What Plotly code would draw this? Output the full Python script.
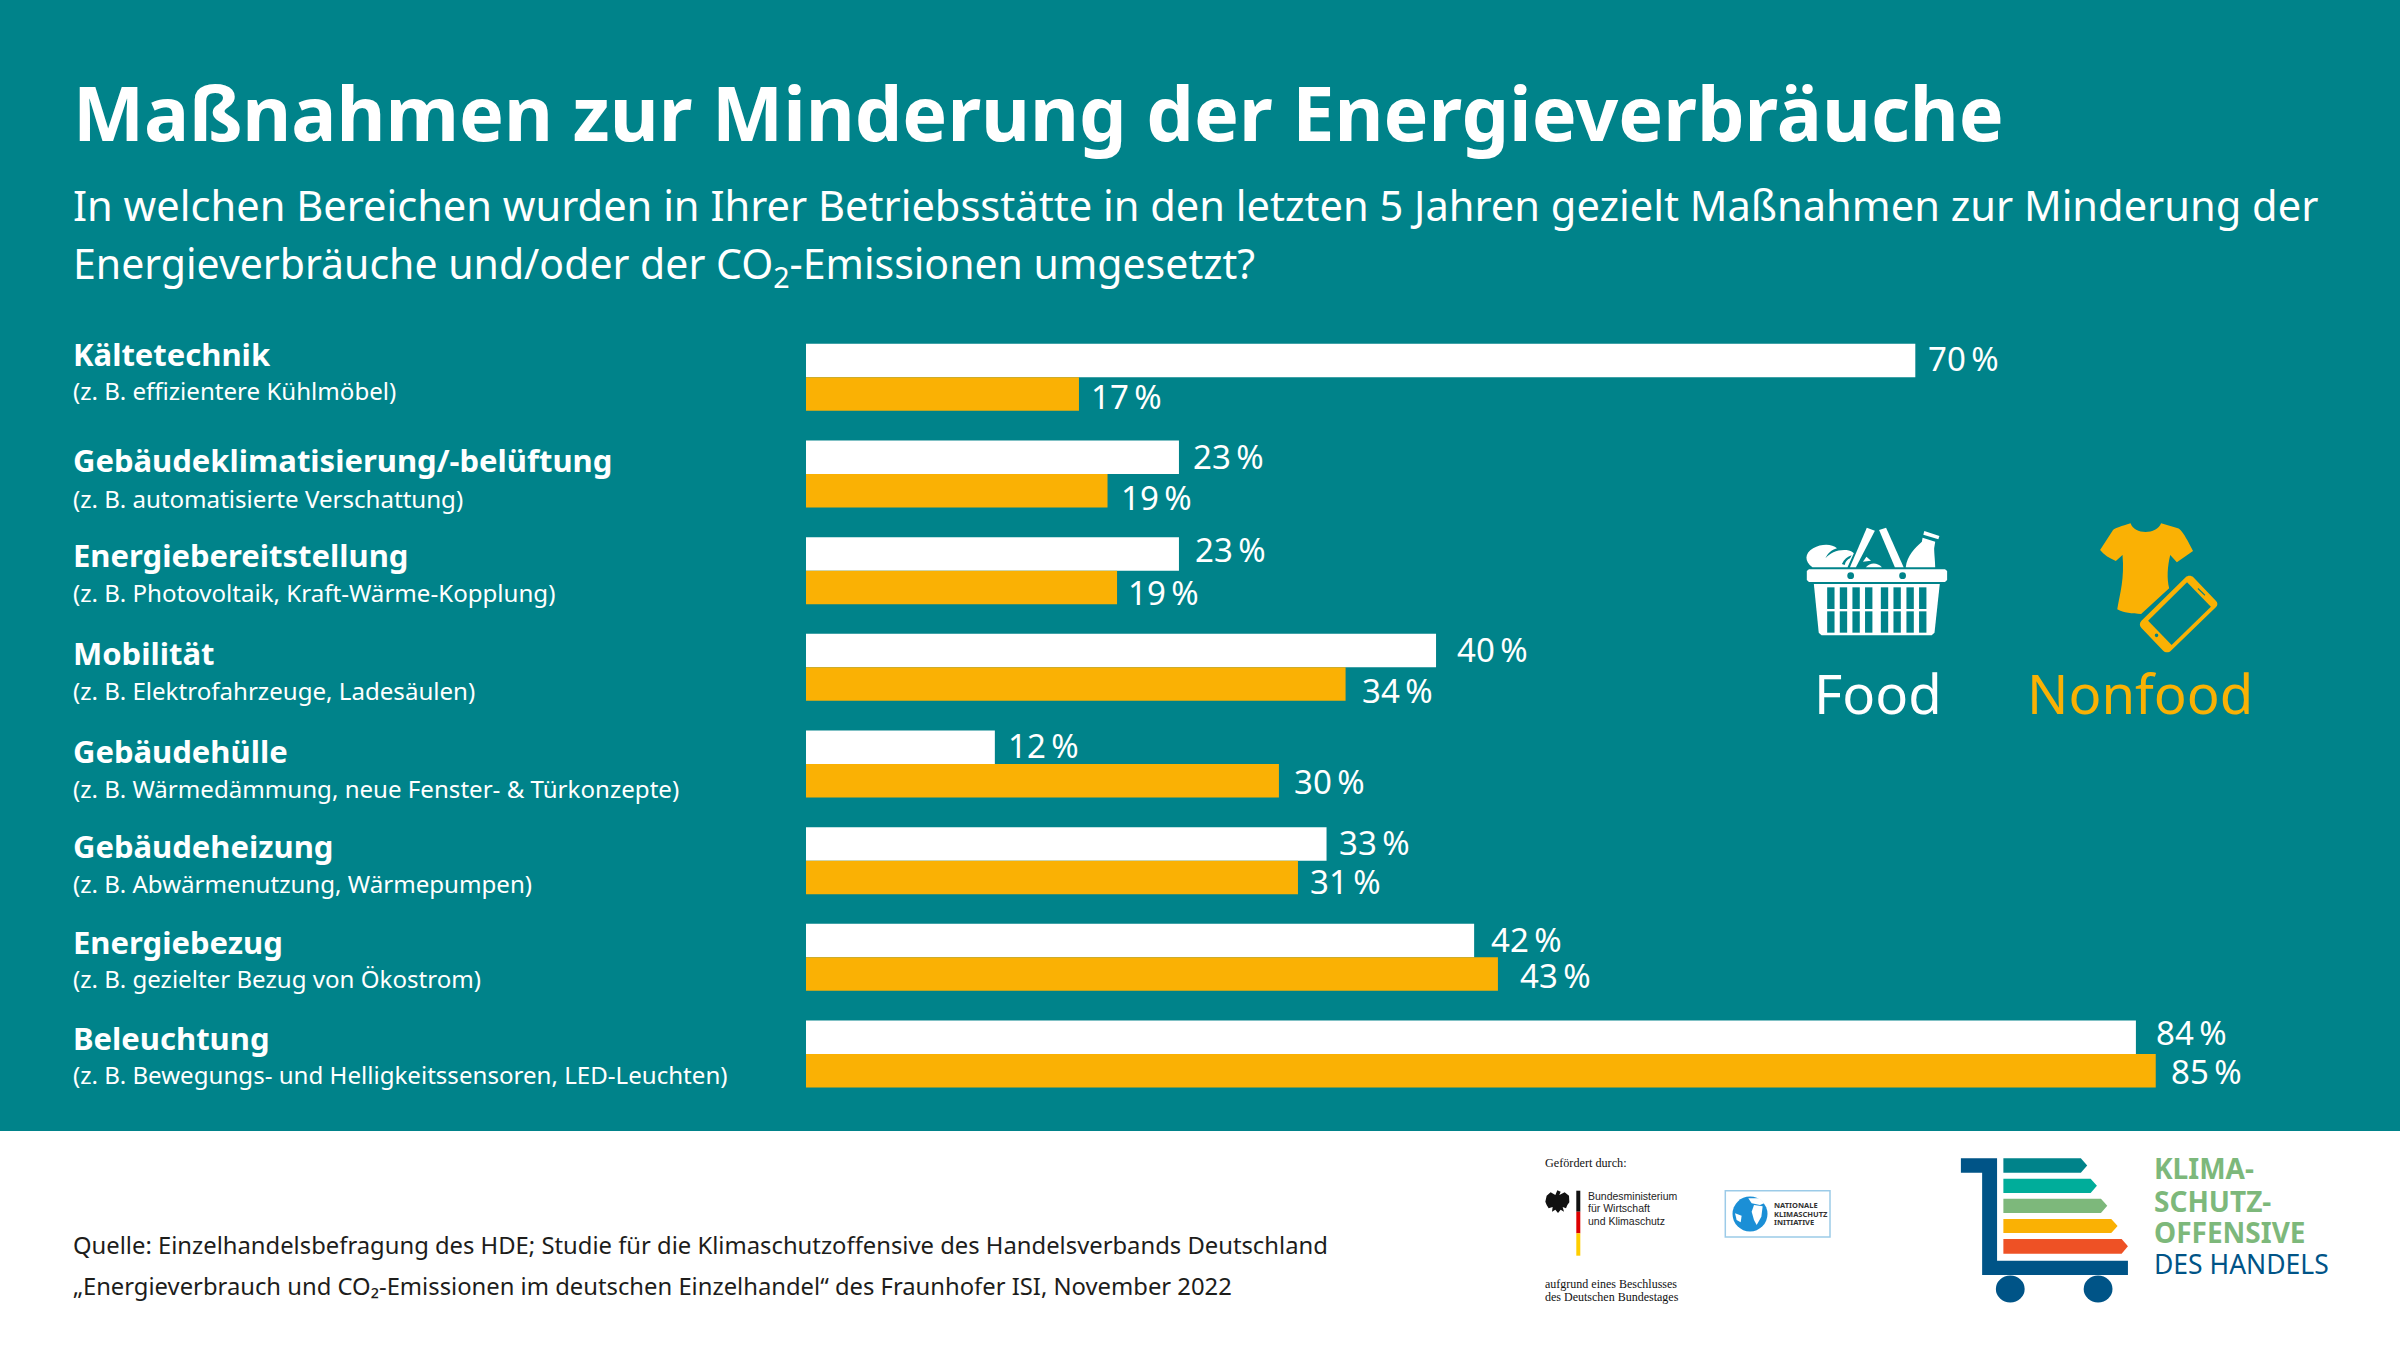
import re
import plotly.graph_objects as go

W, H = 2400, 1360
TEAL = "#00838A"
ORANGE = "#FAB104"
FONT = "Noto Sans"

categories = ["Kältetechnik", "Gebäudeklimatisierung/-belüftung", "Energiebereitstellung", "Mobilität",
              "Gebäudehülle", "Gebäudeheizung", "Energiebezug", "Beleuchtung"]
examples = ["(z. B. effizientere Kühlmöbel)", "(z. B. automatisierte Verschattung)",
            "(z. B. Photovoltaik, Kraft-Wärme-Kopplung)", "(z. B. Elektrofahrzeuge, Ladesäulen)",
            "(z. B. Wärmedämmung, neue Fenster- & Türkonzepte)", "(z. B. Abwärmenutzung, Wärmepumpen)",
            "(z. B. gezielter Bezug von Ökostrom)", "(z. B. Bewegungs- und Helligkeitssensoren, LED-Leuchten)"]
food_values = [69.9, 23.5, 23.5, 39.7, 11.9, 32.8, 42.1, 83.8]
nonfood_values = [17.2, 19.0, 19.6, 34.0, 29.8, 31.0, 43.6, 85.05]
food_labels = ["70\u2009%", "23\u2009%", "23\u2009%", "40\u2009%", "12\u2009%", "33\u2009%", "42\u2009%", "84\u2009%"]
nonfood_labels = ["17\u2009%", "19\u2009%", "19\u2009%", "34\u2009%", "30\u2009%", "31\u2009%", "43\u2009%", "85\u2009%"]

# label placement relative to bar end / row centre (pixels)
food_gap = [11.8, 13.4, 15.3, 19.5, 12.3, 11.1, 16.1, 19.2]
nonfood_gap = [10.7, 12.3, 10, 15.7, 14.2, 11.1, 20.6, 14.5]
food_up = [19, 17.1, 21.2, 17.9, 18.6, 18.2, 17.9, 21.7]
nonfood_up = [-18.9, -23.7, -22.1, -23.4, -17.7, -20.6, -18.5, -17.7]
name_y = [353.5, 459.5, 554.5, 652.5, 750.5, 845.5, 941.5, 1037.5]
example_y = [390, 498, 592, 690, 788, 883, 978, 1074]


def px(x):
    return x / W


def py(y):
    return 1 - y / H


def zoomer(ox, oy, sx, sy):
    def conv(path):
        def rep(m):
            x = ox + float(m.group(1)) / sx
            y = oy + float(m.group(2)) / sy
            return f"{px(x):.5f},{py(y):.5f}"
        return re.sub(r"(-?\d+\.?\d*),(-?\d+\.?\d*)", rep, path)
    return conv


shapes = []
annotations = []


def add_path(path, color):
    shapes.append(dict(type="path", path=path, xref="paper", yref="paper", fillcolor=color,
                       line=dict(width=0), layer="above"))


def add_rect(x0, y0, x1, y1, color, layer="above", line=None):
    shapes.append(dict(type="rect", xref="paper", yref="paper", x0=px(x0), x1=px(x1), y0=py(y1), y1=py(y0),
                       fillcolor=color, line=line or dict(width=0), layer=layer))


def add_ellipse(cx, cy, rx, ry, color):
    shapes.append(dict(type="circle", xref="paper", yref="paper", x0=px(cx - rx), x1=px(cx + rx),
                       y0=py(cy + ry), y1=py(cy - ry), fillcolor=color, line=dict(width=0), layer="above"))


def add_text(text, x, y, size, color="white", bold=False, family=FONT, anchor="left"):
    annotations.append(dict(text=f"<b>{text}</b>" if bold else text, xref="paper", yref="paper", x=px(x), y=py(y),
                            xanchor=anchor, yanchor="middle", showarrow=False, borderpad=0, borderwidth=0,
                            font=dict(family=family, size=size, color=color)))


# background: teal panel over white page
add_rect(0, 0, W, 1131, TEAL, layer="below")

# headline
add_text("Maßnahmen zur Minderung der Energieverbräuche", 72.5, 111, 75.4, bold=True)
add_text("In welchen Bereichen wurden in Ihrer Betriebsstätte in den letzten 5 Jahren gezielt Maßnahmen zur Minderung der",
         72.5, 205, 41.6)
add_text("Energieverbräuche und/oder der CO<sub>2</sub>-Emissionen umgesetzt?", 72.5, 266, 41)

# row captions
for name, ex, ny, ey in zip(categories, examples, name_y, example_y):
    add_text(name, 72.5, ny, 31, bold=True)
    add_text(ex, 72.5, ey, 24.1)

# value labels
for i in range(len(categories)):
    annotations.append(dict(text=food_labels[i], x=food_values[i], y=categories[i], xref="x", yref="y",
                            xshift=food_gap[i], yshift=food_up[i], xanchor="left", yanchor="middle",
                            showarrow=False, borderpad=0, font=dict(family=FONT, size=33, color="white")))
    annotations.append(dict(text=nonfood_labels[i], x=nonfood_values[i], y=categories[i], xref="x", yref="y",
                            xshift=nonfood_gap[i], yshift=nonfood_up[i], xanchor="left", yanchor="middle",
                            showarrow=False, borderpad=0, font=dict(family=FONT, size=33, color="white")))

# legend icons
z2 = zoomer(1750, 490, 1568 / 550, 3)
# basket
add_path(z2("M 168,238 L 556,238 L 562,243 L 562,270 L 556,276 L 168,276 L 162,270 L 162,243 Z"), "white")
add_path(z2("M 182,282 L 541,282 L 526,428 L 518,436 L 204,436 L 196,428 Z"), "white")
for cx in [287, 435]:
    add_ellipse(1750 + cx / (1568 / 550), 490 + 257 / 3, 3.4, 3.4, TEAL)
for a, b in [(220, 241), (256, 277), (292, 313), (328, 349), (373, 394), (409, 430), (446, 467), (482, 503)]:
    for t, u in [(292, 357), (364, 428)]:
        add_path(z2(f"M {a},{t} L {b},{t} L {b},{u} L {a},{u} Z"), TEAL)
add_path(z2("M 333,113 L 356,122 L 302,232 L 285,232 Z"), "white")
add_path(z2("M 368,120 L 388,113 L 438,232 L 413,232 Z"), "white")
add_path(z2("M 444,232 C 448,195 470,175 490,155 L 492,143 L 528,155 L 525,175 C 525,190 528,215 528,232 Z"), "white")
add_path(z2("M 497,123 L 540,138 L 537,148 L 494,134 Z"), "white")
add_path(z2("M 178,232 C 155,215 155,190 180,175 C 205,160 235,162 248,175 C 232,180 222,190 215,205 "
            "C 228,188 250,178 275,180 C 285,182 293,185 296,190 L 278,232 Z"), "white")
add_path(z2("M 262,222 C 268,208 278,200 290,196 L 285,205 C 278,208 272,215 270,225 Z"), TEAL)
add_path(z2("M 330,232 C 342,218 362,216 376,232 Z"), "white")
add_path(z2("M 322,215 L 332,200 L 345,212 Z"), "white")
# shirt and phone
add_path(z2("M 1085,100 C 1095,135 1160,135 1172,100 L 1220,115 C 1230,120 1240,135 1263,183 L 1217,217 L 1198,195 "
            "C 1190,230 1188,265 1195,295 L 1115,372 C 1090,372 1065,368 1047,358 C 1055,310 1068,265 1062,195 "
            "L 1043,213 C 1025,205 1010,195 998,180 L 1035,120 C 1040,115 1060,108 1085,100 Z"), ORANGE)
add_path(z2("M 1242,262 C 1248,256 1258,256 1264,262 L 1328,332 C 1334,338 1334,346 1328,352 L 1200,482 "
            "C 1194,488 1184,488 1178,482 L 1116,414 C 1110,408 1110,398 1116,392 Z"), ORANGE)
add_path(z2("M 1246,277 L 1314,350 L 1202,465 L 1135,392 Z"), TEAL)
add_path(z2("M 1278,294 L 1298,314 L 1296,317 L 1276,297 Z"), TEAL)
add_ellipse(1750 + 1159 / (1568 / 550), 490 + 436 / 3, 1.8, 1.8, TEAL)
add_text("Food", 1878, 693, 54.5, anchor="center")
add_text("Nonfood", 2140, 693, 54.5, color=ORANGE, anchor="center")

# source note
add_text("Quelle: Einzelhandelsbefragung des HDE; Studie für die Klimaschutzoffensive des Handelsverbands Deutschland",
         72.5, 1244.5, 23.8, color="#1d1d1b")
add_text("„Energieverbrauch und CO₂-Emissionen im deutschen Einzelhandel“ des Fraunhofer ISI, November 2022",
         72.5, 1285.5, 23.8, color="#1d1d1b")

# sponsor block
SERIF = "Liberation Serif"
add_text("Gefördert durch:", 1545, 1163, 12.2, color="#111111", family=SERIF)
add_text("aufgrund eines Beschlusses", 1545, 1284, 12, color="#111111", family=SERIF)
add_text("des Deutschen Bundestages", 1545, 1296.5, 12, color="#111111", family=SERIF)
add_rect(1576.3, 1190.7, 1580.3, 1211.7, "#111111")
add_rect(1576.3, 1211.7, 1580.3, 1233.3, "#DD0000")
add_rect(1576.3, 1233.3, 1580.3, 1255.7, "#FFCE00")
for t, yy in zip(["Bundesministerium", "für Wirtschaft", "und Klimaschutz"], [1195.7, 1208.3, 1221.3]):
    add_text(t, 1587.7, yy, 10.5, color="#222222", family="Liberation Sans")
z7 = zoomer(1530, 1145, 3, 3)
add_path(z7("M 82,136 L 92,140 L 88,150 L 104,142 L 117,152 L 118,172 L 112,180 L 108,190 L 98,186 L 102,200 "
            "L 92,194 L 84,204 L 76,194 L 66,200 L 68,186 L 56,190 L 50,180 L 46,170 L 50,152 L 62,142 L 76,150 Z"),
         "#111111")
shapes.append(dict(type="rect", xref="paper", yref="paper", x0=px(1725.3), x1=px(1830), y0=py(1237), y1=py(1190.7),
                   fillcolor="white", line=dict(width=1.5, color="#9CCBE8"), layer="above"))
add_ellipse(1750, 1214, 17.5, 17.5, "#1B8FD6")
add_path(z7("M 655,160 L 690,160 L 702,175 L 690,180 L 665,175 Z"), "white")
add_path(z7("M 672,180 L 698,184 L 694,215 L 680,240 L 672,225 L 665,200 Z"), "white")
add_path(z7("M 615,205 L 635,212 L 632,232 L 620,225 Z"), "white")
for t, yy in zip(["NATIONALE", "KLIMASCHUTZ", "INITIATIVE"], [1205.3, 1214, 1222.3]):
    add_text(t, 1774.3, yy, 7.5, color="#333333", bold=True)

# campaign logo
z3 = zoomer(1500, 1130, 1568 / 900, 3)
BLUE = "#005487"
add_path(z3("M 803,85 L 866,85 L 866,392 L 1094,392 L 1094,435 L 840,435 L 840,128 L 803,128 Z"), BLUE)
for x0z in [889, 1042]:
    add_ellipse(1500 + x0z / (1568 / 900), 1130 + 477 / 3, 14.4, 13.5, BLUE)
for tip, t, u, c in [(1023, 85, 128, TEAL), (1040, 146, 189, "#00AD9A"), (1058, 206, 249, "#7DB87B"),
                     (1076, 267, 309, ORANGE), (1094, 327, 371, "#EE5125")]:
    m = (t + u) / 2
    add_path(z3(f"M 877,{t} L {tip - 11},{t} L {tip},{m} L {tip - 11},{u} L 877,{u} Z"), c)
for t, yy in zip(["KLIMA-", "SCHUTZ-", "OFFENSIVE"], [1168, 1200.7, 1232]):
    add_text(t, 2154, yy, 28, color="#7DB87B", bold=True)
add_text("DES HANDELS", 2154, 1264, 26.5, color=BLUE)

fig = go.Figure()
fig.add_bar(y=categories, x=food_values, orientation="h", name="Food", marker=dict(color="white", line=dict(width=0)))
fig.add_bar(y=categories, x=nonfood_values, orientation="h", name="Nonfood", marker=dict(color=ORANGE, line=dict(width=0)))

fig.update_layout(
    width=W, height=H, margin=dict(l=0, r=0, t=0, b=0), paper_bgcolor="white", plot_bgcolor="rgba(0,0,0,0)",
    barmode="group", bargap=0.307, bargroupgap=0, showlegend=False, hovermode=False,
    xaxis=dict(domain=[806 / W, 1], range=[0, (W - 806) / 15.87], visible=False, fixedrange=True),
    yaxis=dict(domain=[1 - 1100 / H, 1 - 300 / H], type="category", categoryorder="array", categoryarray=categories,
               range=[(1100 - 377.3) / 96.67, (300 - 377.3) / 96.67], visible=False, fixedrange=True),
    shapes=shapes, annotations=annotations,
)

fig.write_html("out.html", config={"displayModeBar": False},
               post_script="document.body.style.margin='0';document.body.style.overflow='hidden';")
